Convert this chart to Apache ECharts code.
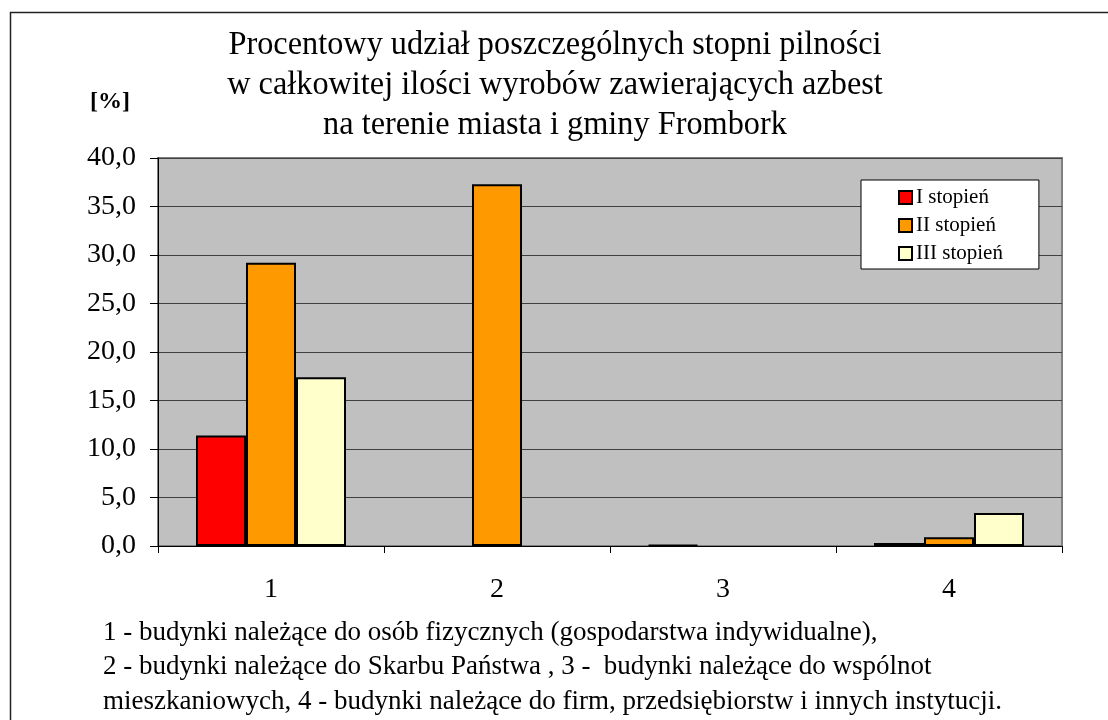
<!DOCTYPE html>
<html>
<head>
<meta charset="utf-8">
<script src="https://cdn.jsdelivr.net/npm/echarts@6/dist/echarts.min.js"></script>
<style>
html,body{margin:0;padding:0;background:#fff;}
#chart{width:1108px;height:720px;}
</style>
</head>
<body>
<div id="chart"></div>
<script>
const categories = ['1', '2', '3', '4'];
const seriesNames = ['I stopień', 'II stopień', 'III stopień'];
const stopien1 = [11.4, 0, 0.1, 0.3];
const stopien2 = [29.2, 37.3, 0, 0.9];
const stopien3 = [17.4, 0, 0, 3.4];
const colors = ['#FF0000', '#FF9900', '#FFFFCC'];
const titleLines = [
  'Procentowy udział poszczególnych stopni pilności',
  'w całkowitej ilości wyrobów zawierających azbest',
  'na terenie miasta i gminy Frombork'
];
const footLines = [
  '1 - budynki należące do osób fizycznych (gospodarstwa indywidualne),',
  '2 - budynki należące do Skarbu Państwa , 3 -  budynki należące do wspólnot',
  'mieszkaniowych, 4 - budynki należące do firm, przedsiębiorstw i innych instytucji.'
];
const yUnit = '[%]';

const serif = '"Liberation Serif", "DejaVu Serif", serif';
const allData = [stopien1, stopien2, stopien3];

const chart = echarts.init(document.getElementById('chart'));
chart.setOption({
  animation: false,
  backgroundColor: '#ffffff',
  textStyle: { fontFamily: serif },
  legend: {
    orient: 'vertical',
    left: 861,
    top: 180,
    backgroundColor: '#ffffff',
    borderColor: '#000',
    borderWidth: 1,
    padding: [7, 36, 5, 37],
    itemGap: 7,
    itemWidth: 13,
    itemHeight: 13,
    icon: 'rect',
    textStyle: { fontFamily: serif, fontSize: 21, color: '#000', lineHeight: 21, padding: [0, 0, 0, -1] },
    itemStyle: { borderColor: '#000', borderWidth: 2 },
    data: seriesNames
  },
  grid: {
    left: 158, right: 46, top: 158, bottom: 174,
    show: true, backgroundColor: '#C0C0C0', borderColor: '#808080', borderWidth: 2
  },
  xAxis: {
    type: 'category',
    data: categories,
    axisLine: { lineStyle: { color: '#000', width: 1 } },
    axisTick: { show: true, length: 7, lineStyle: { color: '#000' } },
    axisLabel: { fontFamily: serif, fontSize: 28, color: '#000', margin: 30 }
  },
  yAxis: {
    type: 'value',
    min: 0, max: 40, interval: 5,
    axisLine: { show: true, lineStyle: { color: '#000', width: 1 } },
    axisTick: { show: true, length: 8, lineStyle: { color: '#000' } },
    axisLabel: {
      fontFamily: serif, fontSize: 28, color: '#000', margin: 22,
      formatter: v => v.toFixed(1).replace('.', ',')
    },
    splitLine: { lineStyle: { color: '#404040', width: 1 } }
  },
  series: seriesNames.map((name, i) => ({
    name: name,
    type: 'bar',
    barWidth: 50,
    barGap: '0%',
    itemStyle: { color: colors[i], borderColor: '#000', borderWidth: 2 },
    data: allData[i].map(v => v === 0 ? '-' : v)
  })),
  graphic: [
    {
      type: 'rect', left: 8, top: 10, silent: true,
      shape: { x: 0, y: 0, width: 1130, height: 740 },
      style: { fill: 'none', stroke: '#222', lineWidth: 1.5 }
    },
    {
      type: 'text', x: 555, y: 85, scaleX: 0.95,
      style: {
        text: titleLines.join('\n'), fontFamily: serif, fontSize: 34, fill: '#000',
        lineHeight: 40, align: 'center', verticalAlign: 'middle'
      }
    },
    {
      type: 'text', x: 90, y: 102,
      style: { text: yUnit, fontFamily: serif, fontSize: 24, fontWeight: 'bold', fill: '#000', verticalAlign: 'middle' }
    },
    {
      type: 'text', x: 103, y: 667,
      style: {
        text: footLines.join('\n'), fontFamily: serif, fontSize: 27, fill: '#000',
        lineHeight: 34.5, align: 'left', verticalAlign: 'middle'
      }
    }
  ]
});
</script>
</body>
</html>
